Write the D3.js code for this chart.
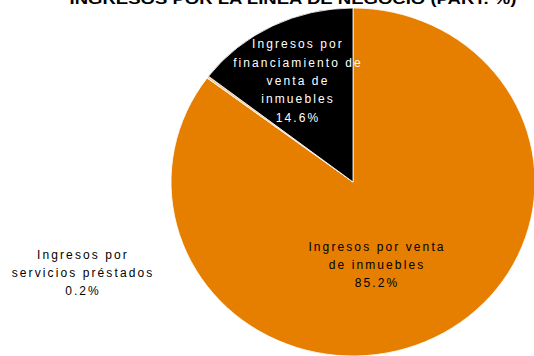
<!DOCTYPE html>
<html>
<head>
<meta charset="utf-8">
<script src="https://cdn.jsdelivr.net/npm/d3@7"></script>
<style>
  body { margin: 0; background: #fff; }
  text { font-family: "Liberation Sans", Arial, sans-serif; }
</style>
</head>
<body>
<div id="chart"></div>
<script>
"use strict"

// data
let categories = ["Ingresos por venta de inmuebles", "Ingresos por servicios préstados", "Ingresos por financiamiento de venta de inmuebles"];
let shares = [85.2, 0.2, 14.6];
let shareLabels = ["85.2%", "0.2%", "14.6%"];
let labelLines = [
    ["Ingresos por venta", "de inmuebles"],
    ["Ingresos por", "servicios préstados"],
    ["Ingresos por", "financiamiento de", "venta de", "inmuebles"]
];
let sliceColors = ["#E67E00", "#F6C48A", "#000000"];
let textColors = ["#000000", "#000000", "#FFFFFF"];

let W = 534, H = 356;

let drawing = d3.select("#chart")
    .append("svg")
    .attr("width", W)
    .attr("height", H);

// title, cut at the top of the picture like the original
drawing.append("text")
    .attr("x", 293)
    .attr("y", 4)
    .attr("text-anchor", "middle")
    .attr("font-size", 14)
    .attr("font-weight", "bold")
    .attr("textLength", 447)
    .attr("lengthAdjust", "spacingAndGlyphs")
    .text("INGRESOS POR LA LÍNEA DE NEGOCIO (PART. %)");

let cx = 353, cy = 182, ry = 174, rx = 182;

let pie = d3.pie().sort(null).value(d => d);
let arcs = pie(shares);
let arc = d3.arc().innerRadius(0).outerRadius(ry);

// slightly wider than tall, as in the picture
let pieGroup = drawing.append("g")
    .attr("transform", "translate(" + cx + "," + cy + ") scale(" + (rx / ry) + ",1)");

pieGroup.selectAll("path")
    .data(arcs)
    .enter()
    .append("path")
    .attr("d", arc)
    .attr("fill", (d, i) => sliceColors[i])
    .attr("stroke", "#fff")
    .attr("stroke-width", 0.8);

// label centres relative to pie centre
let labelPos = [[24, 83], [-270, 91], [-55, -101]];
let lineGap = 18.3;

arcs.forEach((d, i) => {
    let lines = labelLines[i].concat([shareLabels[i]]);
    let n = lines.length;
    let g = drawing.append("g")
        .attr("transform", "translate(" + (cx + labelPos[i][0]) + "," + (cy + labelPos[i][1]) + ")");
    lines.forEach((t, j) => {
        g.append("text")
            .attr("x", 0)
            .attr("y", (j - (n - 1) / 2) * lineGap + 4)
            .attr("text-anchor", "middle")
            .attr("font-size", 12)
            .attr("letter-spacing", 2.1)
            .attr("fill", textColors[i])
            .text(t);
    });
});
</script>
</body>
</html>
